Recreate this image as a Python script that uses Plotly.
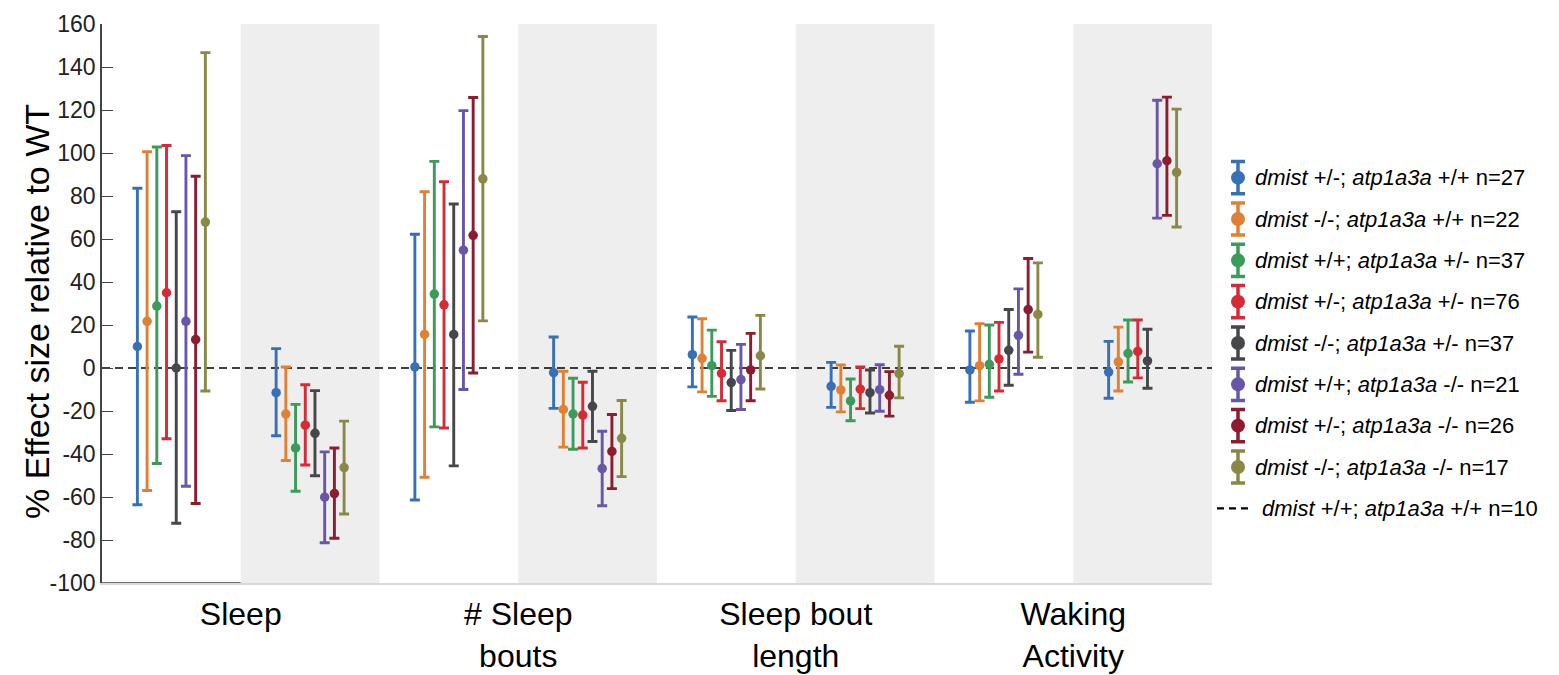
import plotly.graph_objects as go

# ---------------- data ----------------
measures = ["Sleep", "# Sleep<br>bouts", "Sleep bout<br>length", "Waking<br>Activity"]
measure_tick_pos = [0.5, 2.5, 4.5, 6.5]          # boundary between the two slots of each measure
slot_index = [0, 1, 2, 3, 4, 5, 6, 7]            # 8 slots: (measure, condition) pairs
shaded_slots = [1, 3, 5, 7]

y_tick_vals = [-100, -80, -60, -40, -20, 0, 20, 40, 60, 80, 100, 120, 140, 160]
y_tick_text = ["-100", "-80", "-60", "-40", "-20", "0", "20", "40", "60", "80", "100", "120", "140", "160"]

series_names = [
    "<i>dmist</i> +/-; <i>atp1a3a</i> +/+ n=27",
    "<i>dmist</i> -/-; <i>atp1a3a</i> +/+ n=22",
    "<i>dmist</i> +/+; <i>atp1a3a</i> +/- n=37",
    "<i>dmist</i> +/-; <i>atp1a3a</i> +/- n=76",
    "<i>dmist</i> -/-; <i>atp1a3a</i> +/- n=37",
    "<i>dmist</i> +/+; <i>atp1a3a</i> -/- n=21",
    "<i>dmist</i> +/-; <i>atp1a3a</i> -/- n=26",
    "<i>dmist</i> -/-; <i>atp1a3a</i> -/- n=17",
]
reference_name = "<i>dmist</i> +/+; <i>atp1a3a</i> +/+ n=10"
reference_value = 0

colors = ["#3570b8", "#e08034", "#3b9b5a", "#d62b37", "#45474b", "#6a56a6", "#8c1c2e", "#8a8844"]

# mean / lower / upper per slot (Sleep A, Sleep B, Bouts A, Bouts B, Length A, Length B, Waking A, Waking B)
mean_het_wt = [10, -11.5, 0.5, -2.2, 6.2, -8.5, -0.9, -1.9]
low_het_wt = [-63.6, -31.5, -61.4, -18.8, -8.8, -18.3, -15.9, -14.1]
up_het_wt = [83.6, 9, 62.2, 14.4, 23.7, 2.6, 17.2, 12.4]

mean_hom_wt = [21.7, -21.4, 15.6, -19.3, 4.5, -10.2, 1.1, 2.9]
low_hom_wt = [-57, -43, -50.8, -36.8, -11.1, -20.4, -15.3, -10.7]
up_hom_wt = [100.6, 0.5, 82, -1.5, 22.9, 1.4, 20.6, 19]

mean_wt_het = [28.8, -37.2, 34.4, -21.4, 1.1, -15.3, 1.7, 6.8]
low_wt_het = [-44.4, -57.3, -27.4, -37.8, -13.2, -24.5, -13.6, -6.5]
up_wt_het = [102.8, -16.9, 96.1, -4.8, 17.6, -5.1, 20, 22.3]

mean_het_het = [35, -26.6, 29.4, -21.9, -2.5, -9.8, 4.2, 7.7]
low_het_het = [-32.9, -45.1, -27.9, -37.2, -15.2, -18.9, -10.7, -4.6]
up_het_het = [103.5, -7.8, 86.6, -6.6, 12.2, 0.5, 21.2, 22.3]

mean_hom_het = [0, -30.4, 15.6, -17.8, -6.8, -11.5, 8.2, 3.3]
low_hom_het = [-72.2, -50.1, -45.5, -34.2, -19.8, -20.9, -8, -9.4]
up_hom_het = [72.7, -10.5, 76.3, -1.5, 8.2, -0.9, 27.2, 18]

mean_wt_hom = [21.7, -60.1, 54.8, -46.8, -5.4, -10.1, 15.2, 95]
low_wt_hom = [-55, -81.3, -10, -64.1, -19.3, -20.1, -2.9, 69.7]
up_wt_hom = [98.8, -39, 119.7, -29.4, 11, 1.5, 36.8, 124.5]

mean_het_hom = [13.2, -58.4, 61.7, -38.8, -0.9, -12.7, 27.2, 96.4]
low_het_hom = [-63, -79.2, -2.3, -56.1, -15.2, -22.4, 7.4, 71]
up_het_hom = [89.2, -37.2, 125.8, -21.6, 16.1, -1.7, 50.9, 126]

mean_hom_hom = [67.9, -46.3, 88, -32.7, 5.7, -2.6, 24.9, 91]
low_hom_hom = [-10.7, -67.9, 21.9, -50.5, -9.8, -13.9, 5, 65.6]
up_hom_hom = [146.7, -24.7, 154.2, -15.1, 24.5, 10.1, 48.9, 120.4]

means = [mean_het_wt, mean_hom_wt, mean_wt_het, mean_het_het,
         mean_hom_het, mean_wt_hom, mean_het_hom, mean_hom_hom]
lows = [low_het_wt, low_hom_wt, low_wt_het, low_het_het,
        low_hom_het, low_wt_hom, low_het_hom, low_hom_hom]
ups = [up_het_wt, up_hom_wt, up_wt_het, up_het_het,
       up_hom_het, up_wt_hom, up_het_hom, up_hom_hom]

# ---------------- layout geometry ----------------
W, H = 1559, 675
ML, MR, MT, MB = 102, 0, 24, 92
PW = W - ML - MR
PH = H - MT - MB
plot_right = 1212
FONT = "Liberation Sans, Arial, Helvetica, sans-serif"

def px_x(p):
    return (p - ML) / PW

def px_y(p):
    return (H - MB - p) / PH

spacing = 0.07
n = len(series_names)

fig = go.Figure()

for i in range(n):
    xs = [s + (i - (n - 1) / 2) * spacing for s in slot_index]
    fig.add_trace(go.Scatter(
        x=xs, y=means[i], mode="markers",
        marker=dict(color=colors[i], size=9.5),
        error_y=dict(type="data", symmetric=False,
                     array=[u - m for u, m in zip(ups[i], means[i])],
                     arrayminus=[m - l for m, l in zip(means[i], lows[i])],
                     color=colors[i], thickness=2.9, width=5),
        showlegend=False, hoverinfo="skip",
    ))

# custom legend keys (error bar + dot), on their own hidden axes
for i in range(n):
    fig.add_trace(go.Scatter(
        x=[0], y=[i], mode="markers", xaxis="x2", yaxis="y2",
        marker=dict(color=colors[i], size=14),
        error_y=dict(type="constant", value=0.39, color=colors[i], thickness=3.5, width=7),
        showlegend=False, hoverinfo="skip",
    ))

shapes = []
for s in shaded_slots:
    shapes.append(dict(type="rect", xref="x", yref="y", x0=s - 0.5, x1=s + 0.5,
                       y0=-100, y1=160, fillcolor="#eeeeee", line=dict(width=0), layer="below"))
shapes.append(dict(type="line", xref="x", yref="y", x0=-0.5, x1=7.5,
                   y0=reference_value, y1=reference_value,
                   line=dict(color="black", width=1.3, dash="8px,5px"), layer="below"))
shapes.append(dict(type="line", xref="x", yref="y", x0=-0.5, x1=0.5, y0=-100, y1=-100,
                   line=dict(color="#444444", width=1.6), layer="above"))
shapes.append(dict(type="line", xref="paper", yref="y2", x0=px_x(1217), x1=px_x(1252),
                   y0=n, y1=n, line=dict(color="black", width=2.2, dash="7px,5px")))

annotations = []
for i in range(n):
    annotations.append(dict(xref="paper", yref="y2", x=px_x(1253), y=i, text=series_names[i],
                            showarrow=False, xanchor="left", yanchor="middle",
                            font=dict(size=22, color="black", family=FONT)))
annotations.append(dict(xref="paper", yref="y2", x=px_x(1260), y=n, text=reference_name,
                        showarrow=False, xanchor="left", yanchor="middle",
                        font=dict(size=22, color="black", family=FONT)))
annotations.append(dict(xref="paper", yref="paper", x=px_x(37), y=px_y(312),
                        text="% Effect size relative to WT", textangle=-90, showarrow=False,
                        xanchor="center", yanchor="middle",
                        font=dict(size=34, color="black", family=FONT)))

fig.update_layout(
    template="none",
    width=W, height=H,
    margin=dict(l=ML, r=MR, t=MT, b=MB, autoexpand=False),
    paper_bgcolor="white", plot_bgcolor="white",
    font=dict(family=FONT, color="black"),
    xaxis=dict(domain=[0, px_x(plot_right)], range=[-0.5, 7.5], automargin=False,
               tickmode="array", tickvals=measure_tick_pos, ticktext=measures,
               ticks="outside", ticklen=2, tickcolor="rgba(0,0,0,0)",
               tickfont=dict(size=32, color="black", family=FONT),
               showline=True, linecolor="#d9d9d9", linewidth=1.5,
               showgrid=False, zeroline=False),
    yaxis=dict(range=[-100, 160], automargin=False,
               tickmode="array", tickvals=y_tick_vals, ticktext=y_tick_text,
               ticks="inside", ticklen=11, tickcolor="#444444", tickwidth=1.2,
               tickfont=dict(size=23, color="#222222", family=FONT),
               showline=True, linecolor="#444444", linewidth=1.5,
               showgrid=False, zeroline=False),
    xaxis2=dict(domain=[px_x(1225), px_x(1251)], range=[-1, 1], visible=False,
                anchor="y2", fixedrange=True),
    yaxis2=dict(domain=[px_y(529), px_y(157)], range=[n + 0.5, -0.5], visible=False,
                anchor="x2", fixedrange=True),
    shapes=shapes,
    annotations=annotations,
    showlegend=False,
)

fig.write_html("out.html")
